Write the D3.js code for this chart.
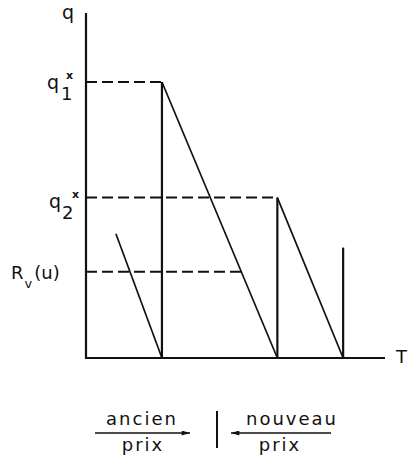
<!DOCTYPE html>
<html>
<head>
<meta charset="utf-8">
<script src="https://cdn.jsdelivr.net/npm/d3@7"></script>
<style>
  body { margin: 0; background: #fff; }
  text { font-family: "DejaVu Sans", sans-serif; fill: #111; }
</style>
</head>
<body>
<script>
// niveaux de q (axe vertical, 0..10)
var niveaux = { q1: 8.0, q2: 4.65, rv: 2.5 };
// dates (axe T, 0..10)
var dates = { t0: 1.0, t1: 2.54, t2: 6.4, t3: 8.6 };

// segments verticaux: [T, q haut]
var verticales = [
    [dates.t1, niveaux.q1],
    [dates.t2, niveaux.q2],
    [dates.t3, 3.2]
];
// segments obliques: [T depart, q depart, T arrivee]
var obliques = [
    [dates.t0, 3.6, dates.t1],
    [dates.t1, niveaux.q1, dates.t2],
    [dates.t2, niveaux.q2, dates.t3]
];

var ancho = 412, altura = 464;

var svg = d3.select("body")
    .append("svg")
    .attr("width", ancho)
    .attr("height", altura);

var x = d3.scaleLinear().domain([0, 10]).range([86, 385]);
var y = d3.scaleLinear().domain([0, 10]).range([358, 13]);

// les axes
svg.append("line")
    .attr("x1", x(0)).attr("y1", y(10))
    .attr("x2", x(0)).attr("y2", y(0))
    .attr("stroke", "#111").attr("stroke-width", 2.2);
svg.append("line")
    .attr("x1", x(0) - 1).attr("y1", y(0))
    .attr("x2", x(10)).attr("y2", y(0))
    .attr("stroke", "#111").attr("stroke-width", 2.2);

svg.append("text").attr("x", x(0) - 24).attr("y", y(10) + 6)
    .style("font-size", "19px").text("q");
svg.append("text").attr("x", x(10) + 11).attr("y", y(0) + 5)
    .style("font-size", "18px").text("T");

// pointilles
var rvFin = obliques[1][0] + (obliques[1][2] - obliques[1][0]) * (1 - niveaux.rv / obliques[1][1]);
var tirets = [
    [niveaux.q1, dates.t1],
    [niveaux.q2, dates.t2],
    [niveaux.rv, rvFin]
];
svg.selectAll(".tiret")
    .data(tirets)
    .enter().append("line")
    .attr("x1", x(0)).attr("y1", function (d) { return y(d[0]); })
    .attr("x2", function (d) { return x(d[1]); }).attr("y2", function (d) { return y(d[0]); })
    .attr("stroke", "#111").attr("stroke-width", 2)
    .attr("stroke-dasharray", "11,5");

svg.selectAll(".verticale")
    .data(verticales)
    .enter().append("line")
    .attr("x1", function (d) { return x(d[0]); }).attr("y1", function (d) { return y(d[1]); })
    .attr("x2", function (d) { return x(d[0]); }).attr("y2", y(0))
    .attr("stroke", "#111").attr("stroke-width", 2.2);

svg.selectAll(".oblique")
    .data(obliques)
    .enter().append("line")
    .attr("x1", function (d) { return x(d[0]); }).attr("y1", function (d) { return y(d[1]); })
    .attr("x2", function (d) { return x(d[2]); }).attr("y2", y(0))
    .attr("stroke", "#111").attr("stroke-width", 1.7);

// etiquettes de q
function etiquette(base, sub, sup, yy, xq, xsub, xsup) {
    svg.append("text").attr("x", xq).attr("y", yy)
        .style("font-size", "19px").text(base);
    svg.append("text").attr("x", xsub).attr("y", yy + 11)
        .style("font-size", "18px").text(sub);
    svg.append("text").attr("x", xsup).attr("y", yy - 10)
        .style("font-size", "11px").style("font-weight", "bold").text(sup);
}
etiquette("q", "1", "x", y(niveaux.q1) + 7, 47, 61, 66);
etiquette("q", "2", "x", y(niveaux.q2) + 10, 49, 62, 72);

var rvTexte = svg.append("text").attr("x", 11).attr("y", y(niveaux.rv) + 7)
    .style("font-size", "18px");
rvTexte.append("tspan").text("R");
rvTexte.append("tspan").attr("dy", 9).attr("dx", 1).style("font-size", "13px").text("v");
rvTexte.append("tspan").attr("dy", -9).attr("dx", 2).text("(u)");

// legende du bas
var legende = svg.append("g").style("font-size", "18px").style("letter-spacing", "2px");

svg.append("defs").append("marker")
    .attr("id", "fleche")
    .attr("viewBox", "0 0 10 6")
    .attr("refX", 10).attr("refY", 3)
    .attr("markerWidth", 11).attr("markerHeight", 5)
    .attr("markerUnits", "userSpaceOnUse")
    .attr("orient", "auto")
    .append("path").attr("d", "M0,0 L10,3 L0,6 Z").attr("fill", "#111");

legende.append("line")
    .attr("x1", 95).attr("y1", 433).attr("x2", 190).attr("y2", 433)
    .attr("stroke", "#111").attr("stroke-width", 1.6)
    .attr("marker-end", "url(#fleche)");
legende.append("line")
    .attr("x1", 331).attr("y1", 433).attr("x2", 231).attr("y2", 433)
    .attr("stroke", "#111").attr("stroke-width", 1.6)
    .attr("marker-end", "url(#fleche)");
legende.append("line")
    .attr("x1", 217).attr("y1", 411).attr("x2", 217).attr("y2", 448)
    .attr("stroke", "#111").attr("stroke-width", 2);

legende.append("text").attr("x", 142).attr("y", 425).attr("text-anchor", "middle").text("ancien");
legende.append("text").attr("x", 143).attr("y", 451).attr("text-anchor", "middle").text("prix");
legende.append("text").attr("x", 292).attr("y", 425).attr("text-anchor", "middle").text("nouveau");
legende.append("text").attr("x", 280).attr("y", 451).attr("text-anchor", "middle").text("prix");
</script>
</body>
</html>
